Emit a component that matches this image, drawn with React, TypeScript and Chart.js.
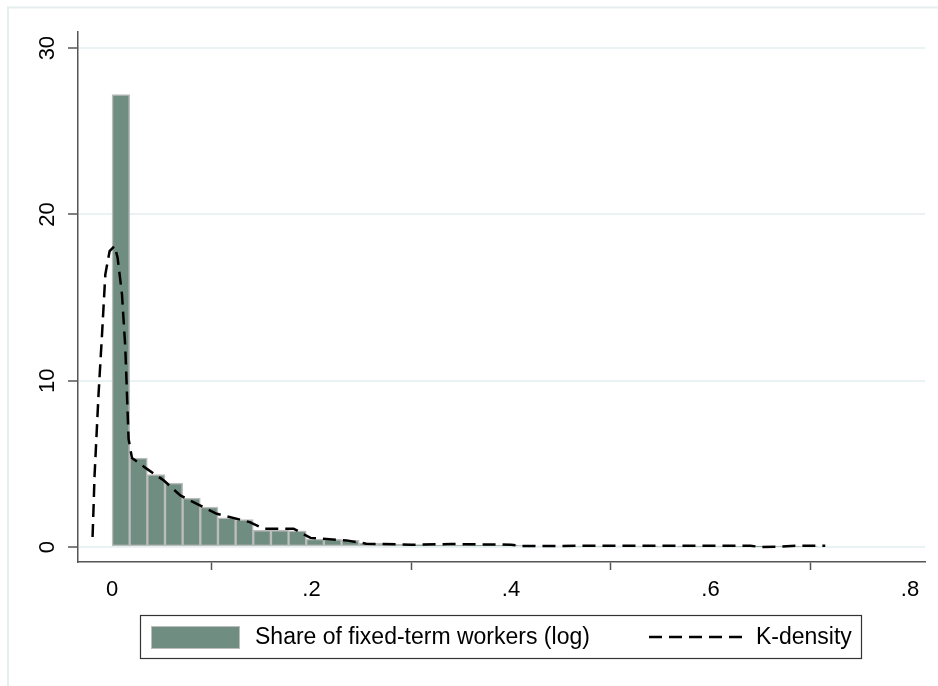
import React, { useEffect, useRef } from "react";
import { Chart, registerables } from "chart.js";

Chart.register(...registerables);

// Histogram bins (density), bin width in share units
const binWidth = 0.0177;
const binHeights = [
  27.2, 5.35, 4.35, 3.85, 2.95, 2.4, 1.75, 1.65, 1.0, 1.0,
  0.98, 0.48, 0.46, 0.4, 0.22, 0.24, 0.18, 0.14, 0.12, 0.12,
  0.1, 0.12, 0.1, 0.08, 0.06, 0.06, 0.05, 0.05, 0.06, 0.05,
  0.04, 0.05, 0.04, 0.04, 0.05, 0.03, 0.02, 0.03, 0.04, 0.05,
];

// Kernel density curve
const densityX = [
  -0.0195, -0.0185, -0.0175, -0.0135, -0.01, -0.0067, -0.0024, 0.0026, 0.0056, 0.01,
  0.0133, 0.015, 0.0166, 0.02, 0.035, 0.052, 0.0685, 0.085, 0.105, 0.138,
  0.152, 0.182, 0.199, 0.235, 0.255, 0.3, 0.34, 0.4, 0.41, 0.5,
  0.6, 0.64, 0.65, 0.667, 0.685, 0.715,
];
const densityY = [
  0.6, 2.4, 4.3, 9.2, 12.8, 16.4, 17.8, 18.1, 17.4, 15.2,
  12.0, 9.2, 6.5, 5.35, 4.7, 4.0, 3.1, 2.6, 2.0, 1.5,
  1.1, 1.1, 0.55, 0.4, 0.2, 0.14, 0.18, 0.14, 0.06, 0.08,
  0.08, 0.08, 0.0, 0.02, 0.08, 0.08,
];

const xTicks = [0, 0.2, 0.4, 0.6, 0.8];
const xTickLabels = ["0", ".2", ".4", ".6", ".8"];
const yTicks = [0, 10, 20, 30];
const yTickLabels = ["0", "10", "20", "30"];

const histLabel = "Share of fixed-term workers (log)";
const densityLabel = "K-density";

const BAR_FILL = "#6f8e81";
const BAR_EDGE = "#bcbcbc";
const AXIS = "#555555";
const GRID = "#eaf2f3";
const FONT = '"Liberation Sans", Arial, sans-serif';

const decorPlugin = {
  id: "decor",
  beforeDraw(chart: any) {
    const ctx = chart.ctx;
    ctx.save();
    ctx.fillStyle = "#ffffff";
    ctx.fillRect(0, 0, chart.width, chart.height);
    ctx.strokeStyle = "#e6eef0";
    ctx.lineWidth = 2;
    ctx.strokeRect(8, 7.5, chart.width + 20, chart.height + 20);
    ctx.restore();
  },
  afterDraw(chart: any) {
    const ctx = chart.ctx;
    const xs = chart.scales.x;
    const ys = chart.scales.y;
    ctx.save();
    ctx.fillStyle = "#000000";
    ctx.font = `22px ${FONT}`;
    ctx.textAlign = "center";
    ctx.textBaseline = "middle";
    xTicks.forEach((v, i) => {
      ctx.fillText(xTickLabels[i], xs.getPixelForValue(v), 590);
    });
    yTicks.forEach((v, i) => {
      ctx.save();
      ctx.translate(48, ys.getPixelForValue(v));
      ctx.rotate(-Math.PI / 2);
      ctx.fillText(yTickLabels[i], 0, 0);
      ctx.restore();
    });

    // legend
    ctx.strokeStyle = "#333333";
    ctx.lineWidth = 1.2;
    ctx.strokeRect(140.5, 615.5, 721, 43);
    ctx.fillStyle = BAR_FILL;
    ctx.fillRect(151, 626, 89, 23);
    ctx.strokeStyle = BAR_EDGE;
    ctx.lineWidth = 1;
    ctx.strokeRect(151.5, 626.5, 88, 22);
    ctx.fillStyle = "#000000";
    ctx.font = `23px ${FONT}`;
    ctx.textAlign = "left";
    ctx.textBaseline = "middle";
    ctx.fillText(histLabel, 255, 638);
    ctx.strokeStyle = "#000000";
    ctx.lineWidth = 2.5;
    ctx.setLineDash([13, 7]);
    ctx.beginPath();
    ctx.moveTo(649, 637);
    ctx.lineTo(742, 637);
    ctx.stroke();
    ctx.setLineDash([]);
    ctx.fillText(densityLabel, 756, 638);
    ctx.restore();
  },
};

export default function App() {
  const ref = useRef<HTMLCanvasElement | null>(null);
  useEffect(() => {
    if (!ref.current) return;
    const barData = binHeights.map((h, i) => ({ x: binWidth * (i + 0.5), y: h }));
    const lineData = densityX.map((x, i) => ({ x, y: densityY[i] }));
    const chart = new Chart(ref.current, {
      type: "bar",
      data: {
        datasets: [
          {
            type: "bar",
            label: histLabel,
            data: barData,
            backgroundColor: BAR_FILL,
            borderColor: BAR_EDGE,
            borderWidth: 1.5,
            borderSkipped: false,
            barPercentage: 1,
            categoryPercentage: 1,
            order: 2,
          } as any,
          {
            type: "line",
            label: densityLabel,
            data: lineData,
            borderColor: "#000000",
            borderWidth: 2.5,
            borderDash: [13, 7],
            pointRadius: 0,
            tension: 0,
            fill: false,
            order: 1,
          } as any,
        ],
      },
      options: {
        responsive: false,
        animation: false,
        devicePixelRatio: 1,
        layout: { padding: { left: 0, top: 32, right: 13, bottom: 0 } },
        plugins: { legend: { display: false }, tooltip: { enabled: false } },
        scales: {
          x: {
            type: "linear",
            min: -0.0341,
            max: 0.815,
            offset: false,
            afterBuildTicks: (s: any) => {
              s.ticks = xTicks.map((v) => ({ value: v }));
            },
            afterFit: (s: any) => {
              s.height = 124;
            },
            ticks: { display: false },
            grid: {
              drawOnChartArea: false,
              drawTicks: true,
              tickLength: 8,
              tickColor: AXIS,
              tickWidth: 1.5,
            },
            border: { display: true, color: AXIS, width: 1.5 },
          },
          y: {
            type: "linear",
            min: -0.9,
            max: 30.97,
            afterBuildTicks: (s: any) => {
              s.ticks = yTicks.map((v) => ({ value: v }));
            },
            afterFit: (s: any) => {
              s.width = 78;
            },
            ticks: { display: false },
            grid: {
              color: GRID,
              lineWidth: 2,
              drawTicks: true,
              tickLength: 10,
              tickColor: AXIS,
              tickWidth: 1.5,
            },
            border: { display: true, color: AXIS, width: 1.5 },
          },
        },
      } as any,
      plugins: [decorPlugin],
    });
    return () => chart.destroy();
  }, []);
  return (
    <div style={{ position: "absolute", left: 0, top: 0, width: 938, height: 686 }}>
      <canvas ref={ref} width={938} height={686} style={{ display: "block", width: 938, height: 686 }} />
    </div>
  );
}
